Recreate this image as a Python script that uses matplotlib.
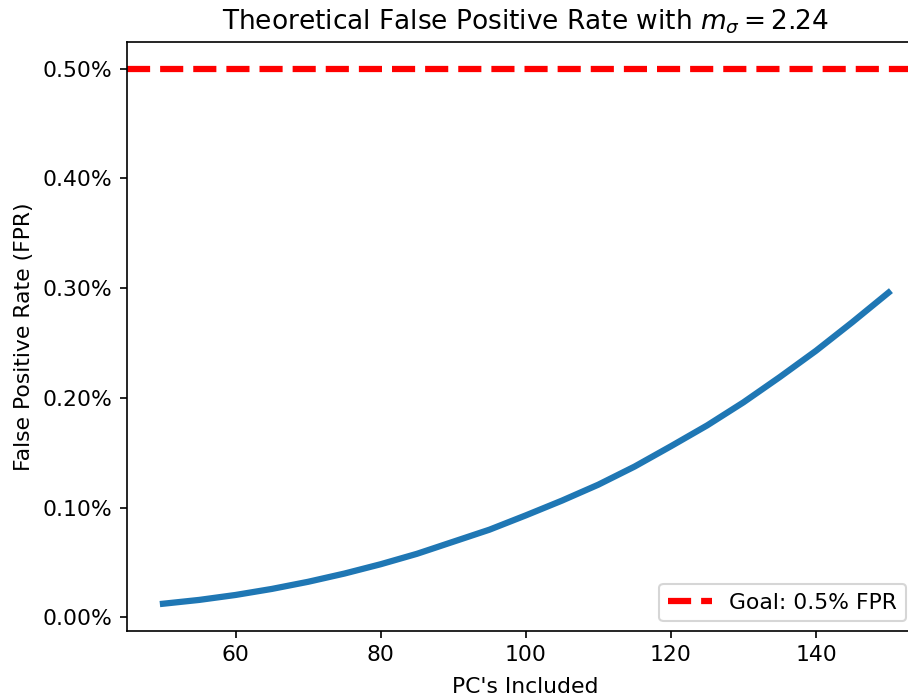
import matplotlib
matplotlib.use("Agg")
import matplotlib.pyplot as plt
from matplotlib.ticker import PercentFormatter

# PCs included vs theoretical false positive rate (in percent)
pcs = [50, 55, 60, 65, 70, 75, 80, 85, 90, 95, 100,
       105, 110, 115, 120, 125, 130, 135, 140, 145, 150]
fpr_pct = [0.0125, 0.016, 0.0205, 0.026, 0.0325, 0.040, 0.0485, 0.058, 0.069, 0.080, 0.093,
           0.1065, 0.121, 0.1375, 0.156, 0.175, 0.196, 0.219, 0.243, 0.269, 0.296]
goal_pct = 0.5
goal_label = "Goal: 0.5% FPR"

plt.rcParams["font.size"] = 10.5

DPI = 150
fig = plt.figure(figsize=(908 / DPI, 696 / DPI), dpi=DPI)
# axes spans past the right edge, like the cropped original
ax = fig.add_axes([126.7 / 908, 1 - 630.5 / 696, 798.1 / 908, 588.5 / 696])

ax.plot(pcs, fpr_pct, color="#1f77b4", linewidth=3)
ax.axhline(goal_pct, color="red", linestyle="--", linewidth=3, label=goal_label)

ax.yaxis.set_major_formatter(PercentFormatter(xmax=100, decimals=2))
ax.set_title(r"Theoretical False Positive Rate with $m_\sigma = 2.24$", fontsize=12.7)
ax.set_xlabel("PC's Included", labelpad=5.5)
ax.set_ylabel("False Positive Rate (FPR)")
ax.legend(loc="lower right", bbox_to_anchor=(0.9764, 0.0153), borderaxespad=0)

fig.savefig("out.png", dpi=DPI)
